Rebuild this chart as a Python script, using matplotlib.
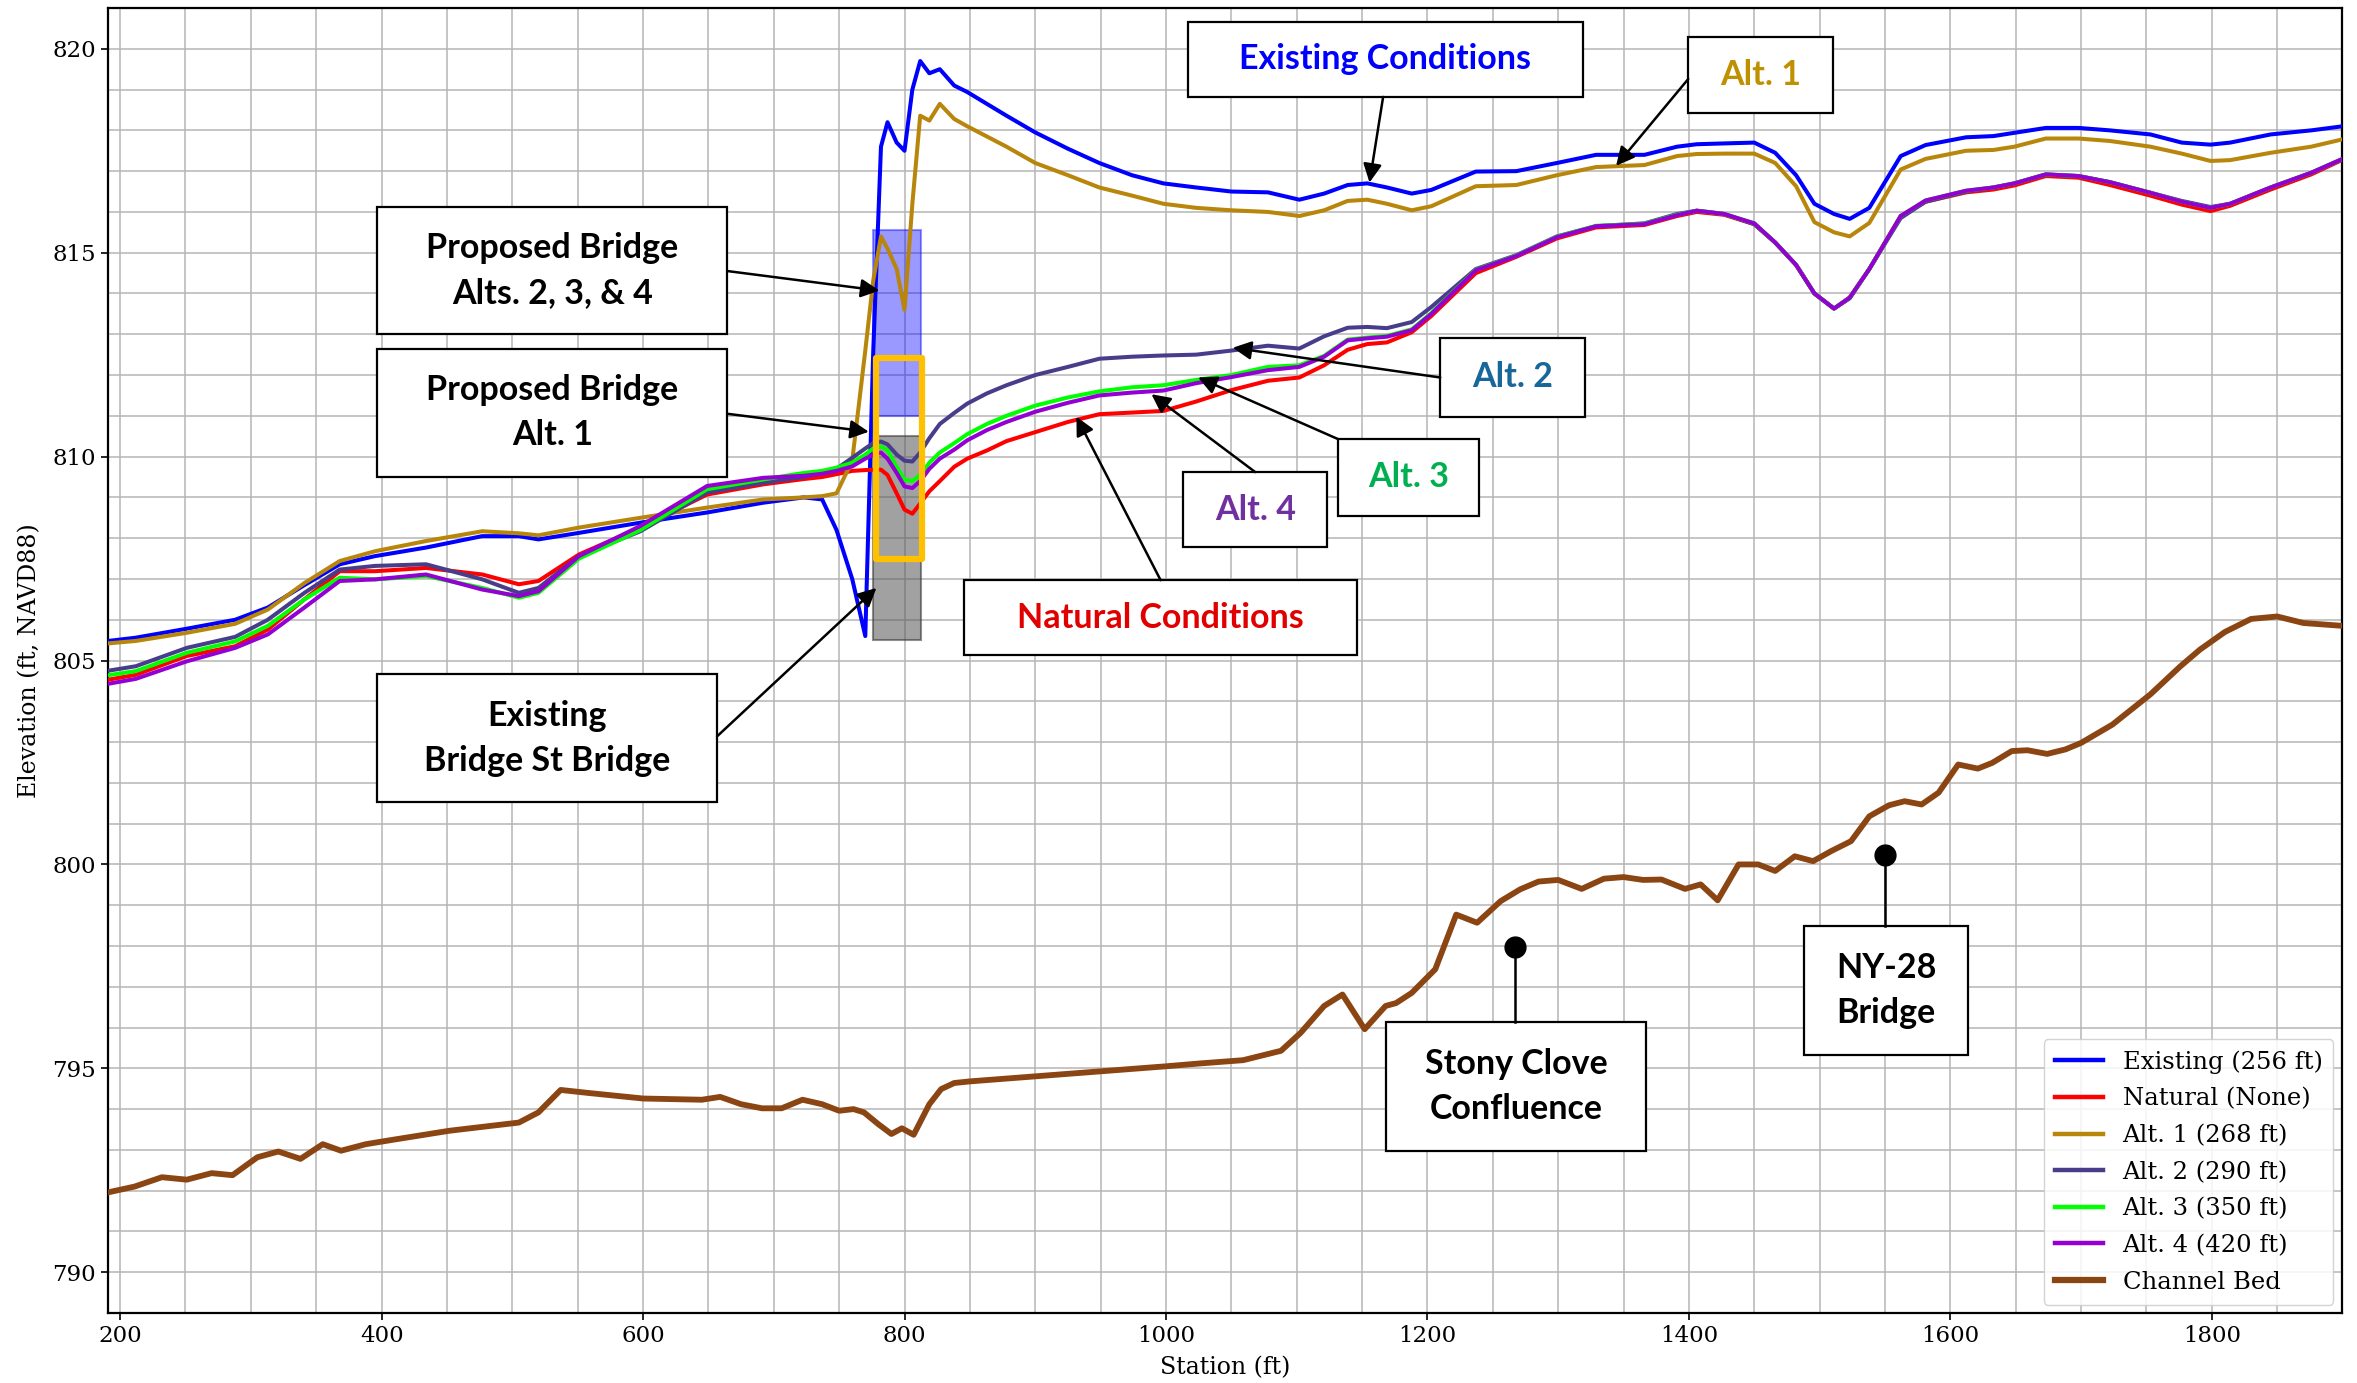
import matplotlib
matplotlib.use("Agg")
import matplotlib.pyplot as plt
from matplotlib.patches import Rectangle
from matplotlib.ticker import MultipleLocator

# ---------------- data ----------------
stations = [191, 212, 251, 288, 313, 341, 368, 395, 434, 477, 505, 520, 551, 598, 649, 692,
            723, 737, 748, 760, 770, 776, 782, 787, 794, 800, 806, 812, 819, 827, 838, 848,
            863, 878, 900, 925, 949, 974, 998, 1023, 1050, 1078, 1102, 1121, 1139, 1154, 1169,
            1188, 1203, 1237, 1268, 1299, 1329, 1366, 1391, 1406, 1427, 1450, 1466, 1482, 1496,
            1511, 1523, 1538, 1562, 1581, 1612, 1633, 1649, 1673, 1698, 1722, 1753, 1777, 1799,
            1814, 1845, 1876, 1900]

existing = [805.48, 805.56, 805.78, 806.0, 806.3, 806.85, 807.36, 807.56, 807.77, 808.05, 808.05,
            807.97, 808.13, 808.38, 808.63, 808.87, 809.0, 808.95, 808.2, 807.0, 805.6, 812.5,
            817.6, 818.2, 817.7, 817.5, 819.0, 819.7, 819.4, 819.5, 819.1, 818.94, 818.65, 818.36,
            817.95, 817.55, 817.2, 816.9, 816.7, 816.6, 816.5, 816.48, 816.3, 816.45, 816.66,
            816.7, 816.6, 816.45, 816.54, 816.99, 817.0, 817.2, 817.4, 817.4, 817.6, 817.66,
            817.68, 817.7, 817.45, 816.9, 816.2, 815.95, 815.83, 816.1, 817.37, 817.64, 817.83,
            817.86, 817.94, 818.06, 818.06, 818.0, 817.9, 817.7, 817.65, 817.7, 817.9, 818.0, 818.1]

natural = [804.53, 804.65, 805.11, 805.35, 805.76, 806.5, 807.19, 807.19, 807.27, 807.11, 806.87,
           806.95, 807.6, 808.26, 809.07, 809.32, 809.45, 809.5, 809.57, 809.65, 809.67, 809.68,
           809.68, 809.55, 809.1, 808.7, 808.6, 808.85, 809.15, 809.4, 809.75, 809.95, 810.15,
           810.38, 810.6, 810.85, 811.04, 811.08, 811.12, 811.35, 811.63, 811.86, 811.94, 812.24,
           812.62, 812.76, 812.8, 813.05, 813.45, 814.5, 814.9, 815.35, 815.62, 815.68, 815.9,
           816.0, 815.93, 815.7, 815.25, 814.7, 814.0, 813.63, 813.9, 814.6, 815.9, 816.25,
           816.48, 816.55, 816.65, 816.88, 816.84, 816.66, 816.4, 816.18, 816.02, 816.15, 816.55,
           816.92, 817.28]

alt1 = [805.42, 805.48, 805.68, 805.9, 806.25, 806.9, 807.44, 807.68, 807.93, 808.17, 808.12,
        808.07, 808.26, 808.5, 808.75, 808.95, 809.0, 809.03, 809.1, 809.9, 812.6, 814.3, 815.4,
        815.1, 814.6, 813.6, 816.2, 818.36, 818.24, 818.65, 818.28, 818.1, 817.85, 817.6, 817.2,
        816.9, 816.6, 816.4, 816.2, 816.1, 816.04, 816.0, 815.9, 816.04, 816.27, 816.3, 816.2,
        816.04, 816.14, 816.63, 816.66, 816.9, 817.1, 817.15, 817.37, 817.42, 817.43, 817.43,
        817.2, 816.63, 815.75, 815.5, 815.4, 815.73, 817.04, 817.3, 817.5, 817.52, 817.6, 817.8,
        817.8, 817.74, 817.6, 817.43, 817.25, 817.27, 817.45, 817.6, 817.78]

alt2 = [804.75, 804.86, 805.31, 805.58, 806.0, 806.66, 807.23, 807.32, 807.36, 806.99, 806.66,
        806.78, 807.56, 808.17, 809.12, 809.36, 809.5, 809.6, 809.7, 809.97, 810.2, 810.33,
        810.37, 810.3, 810.05, 809.9, 809.88, 810.1, 810.45, 810.8, 811.07, 811.3, 811.55,
        811.75, 812.0, 812.2, 812.4, 812.45, 812.48, 812.5, 812.6, 812.72, 812.65, 812.95,
        813.16, 813.18, 813.15, 813.3, 813.67, 814.6, 814.94, 815.4, 815.65, 815.72, 815.95,
        816.03, 815.95, 815.7, 815.25, 814.7, 814.0, 813.63, 813.88, 814.6, 815.85, 816.25,
        816.5, 816.6, 816.7, 816.92, 816.88, 816.73, 816.47, 816.27, 816.12, 816.2, 816.6,
        816.96, 817.3]

alt3 = [804.64, 804.74, 805.19, 805.47, 805.85, 806.5, 807.03, 806.99, 807.07, 806.78, 806.54,
        806.66, 807.5, 808.2, 809.2, 809.44, 809.6, 809.65, 809.73, 809.85, 810.05, 810.2,
        810.25, 810.15, 809.75, 809.43, 809.4, 809.55, 809.85, 810.1, 810.33, 810.55, 810.8,
        811.0, 811.25, 811.45, 811.6, 811.7, 811.75, 811.88, 812.0, 812.2, 812.24, 812.47,
        812.87, 812.92, 812.96, 813.12, 813.52, 814.58, 814.93, 815.39, 815.66, 815.71, 815.93,
        816.03, 815.95, 815.72, 815.25, 814.7, 814.0, 813.63, 813.9, 814.6, 815.9, 816.28,
        816.52, 816.6, 816.7, 816.92, 816.88, 816.73, 816.47, 816.25, 816.1, 816.2, 816.6,
        816.96, 817.3]

alt4 = [804.43, 804.55, 804.98, 805.31, 805.64, 806.3, 806.95, 806.99, 807.11, 806.74, 806.58,
        806.7, 807.56, 808.3, 809.28, 809.48, 809.53, 809.58, 809.65, 809.76, 809.95, 810.05,
        810.1, 809.95, 809.6, 809.27, 809.23, 809.4, 809.7, 809.95, 810.17, 810.4, 810.65,
        810.85, 811.1, 811.32, 811.5, 811.57, 811.62, 811.8, 811.95, 812.12, 812.2, 812.45,
        812.85, 812.9, 812.94, 813.1, 813.5, 814.57, 814.92, 815.38, 815.65, 815.7, 815.92,
        816.03, 815.95, 815.72, 815.25, 814.7, 814.0, 813.63, 813.9, 814.6, 815.9, 816.28,
        816.52, 816.6, 816.7, 816.92, 816.88, 816.73, 816.47, 816.25, 816.1, 816.2, 816.6,
        816.96, 817.3]

bed_stations = [191, 211, 232, 251, 270, 286, 305, 321, 338, 355, 369, 388, 409, 452, 505, 520,
                537, 560, 600, 645, 659, 675, 691, 706, 722, 737, 750, 761, 769, 780, 790, 798,
                807, 819, 828, 838, 850, 1000, 1026, 1059, 1088, 1103, 1121, 1135, 1152, 1168,
                1176, 1188, 1206, 1222, 1238, 1256, 1271, 1285, 1300, 1318, 1335, 1350, 1365,
                1379, 1397, 1409, 1422, 1438, 1453, 1466, 1481, 1495, 1509, 1524, 1538, 1553,
                1565, 1578, 1591, 1606, 1621, 1632, 1647, 1659, 1674, 1688, 1700, 1724, 1753,
                1776, 1791, 1810, 1830, 1850, 1870, 1900]
bed = [791.96, 792.1, 792.33, 792.27, 792.43, 792.38, 792.82, 792.96, 792.78, 793.14, 792.98,
       793.14, 793.25, 793.47, 793.67, 793.92, 794.47, 794.39, 794.26, 794.23, 794.3, 794.12,
       794.02, 794.02, 794.23, 794.12, 793.96, 794.0, 793.92, 793.63, 793.39, 793.53, 793.37,
       794.12, 794.49, 794.64, 794.68, 795.05, 795.12, 795.2, 795.43, 795.87, 796.53, 796.81,
       795.96, 796.53, 796.6, 796.85, 797.43, 798.77, 798.57, 799.1, 799.39, 799.58, 799.62,
       799.4, 799.65, 799.69, 799.62, 799.63, 799.4, 799.51, 799.12, 800.0, 800.0, 799.84,
       800.2, 800.08, 800.33, 800.57, 801.18, 801.45, 801.55, 801.47, 801.76, 802.45, 802.35,
       802.49, 802.78, 802.8, 802.71, 802.82, 802.98, 803.43, 804.17, 804.86, 805.27, 805.7,
       806.02, 806.08, 805.92, 805.85]

series_labels = ["Existing (256 ft)", "Natural (None)", "Alt. 1 (268 ft)", "Alt. 2 (290 ft)",
                 "Alt. 3 (350 ft)", "Alt. 4 (420 ft)"]
bed_label = "Channel Bed"

# ---------------- styling ----------------
plt.rcParams['font.family'] = ['DejaVu Serif']
ANN_FONT = ['Lato', 'DejaVu Sans']

fig = plt.figure(figsize=(23.57, 13.83), dpi=100)
ax = fig.add_axes([0.0458, 0.0506, 0.9478, 0.9436])

series = [existing, natural, alt1, alt2, alt3, alt4]
colors = ['#0000ff', '#ff0000', '#b8860b', '#483d8b', '#00ff00', '#9400d3']
for vals, lab, c in zip(series, series_labels, colors):
    ax.plot(stations, vals, color=c, lw=2.9, label=lab, zorder=3)
ax.plot(bed_stations, bed, color='#8b4513', lw=4.2, label=bed_label, zorder=3)

# bridge shading
ax.add_patch(Rectangle((776.2, 811.0), 36.4, 4.55, facecolor='#0000ff', alpha=0.4,
                       edgecolor='#0000ff', lw=1.5, zorder=2))
ax.add_patch(Rectangle((776.2, 805.5), 36.4, 5.0, facecolor='#555555', alpha=0.55,
                       edgecolor='#333333', lw=1.5, zorder=2))
ax.add_patch(Rectangle((778.0, 807.5), 35.6, 4.92, facecolor='none', edgecolor='#ffc000',
                       lw=4.5, zorder=4, joinstyle='round'))

ax.set_xlim(190.7, 1899.5)
ax.set_ylim(789.0, 821.0)
ax.xaxis.set_major_locator(MultipleLocator(200))
ax.xaxis.set_minor_locator(MultipleLocator(50))
ax.yaxis.set_major_locator(MultipleLocator(5))
ax.yaxis.set_minor_locator(MultipleLocator(1))
ax.grid(which='both', color='#b4b4b4', lw=1.2, alpha=0.9, zorder=0)
ax.set_axisbelow(True)
ax.tick_params(which='major', labelsize=16.5, length=5, width=1.2)
ax.tick_params(which='minor', length=0)
for s in ax.spines.values():
    s.set_linewidth(1.6)
ax.set_xlabel("Station (ft)", fontsize=17, labelpad=7)
ax.set_ylabel("Elevation (ft, NAVD88)", fontsize=17, labelpad=8)

leg = ax.legend(loc='lower right', fontsize=17.5, framealpha=0.85, borderpad=0.45,
                labelspacing=0.56, handlelength=2.0, borderaxespad=0.35)
leg.set_zorder(10)
for h in leg.get_lines():
    h.set_linewidth(3.2)
leg.get_lines()[-1].set_linewidth(4.5)


def box(x0, x1, y0, y1, text, color='black', lines=1.5):
    ax.add_patch(Rectangle((x0, y0), x1 - x0, y1 - y0, facecolor='white', edgecolor='black',
                           lw=1.6, zorder=6))
    ax.text((x0 + x1) / 2, (y0 + y1) / 2, text, ha='center', va='center', color=color,
            fontsize=24.5, fontweight='bold', family=ANN_FONT, linespacing=lines, zorder=7)


def arrow(x0, y0, x1, y1):
    ax.annotate("", xy=(x1, y1), xytext=(x0, y0),
                arrowprops=dict(arrowstyle='-|>', color='black', lw=1.8, mutation_scale=28,
                                shrinkA=0, shrinkB=0), zorder=7)


box(1016.6, 1319.1, 818.82, 820.66, "Existing Conditions", '#0000ff')
arrow(1166.1, 818.82, 1155.7, 816.72)
box(1399.5, 1509.9, 818.42, 820.29, "Alt. 1", '#bf9000')
arrow(1399.5, 819.26, 1344.3, 817.13)
box(396.7, 664.6, 813.0, 816.13, "Proposed Bridge\nAlts. 2, 3, & 4")
arrow(664.6, 814.55, 780.8, 814.07)
box(396.7, 664.6, 809.51, 812.64, "Proposed Bridge\nAlt. 1")
arrow(664.6, 811.05, 772.7, 810.61)
box(396.7, 656.6, 801.52, 804.68, "Existing\nBridge St Bridge")
arrow(656.6, 803.14, 778.5, 806.78)
box(845.2, 1146.5, 805.13, 806.97, "Natural Conditions", '#e00000')
arrow(995.9, 806.97, 931.5, 810.98)
box(1013.1, 1123.5, 807.78, 809.62, "Alt. 4", '#7030a0')
arrow(1068.3, 809.62, 988.9, 811.53)
box(1131.6, 1239.7, 808.55, 810.43, "Alt. 3", '#00b050')
arrow(1131.6, 810.43, 1024.6, 811.94)
box(1209.8, 1320.2, 810.98, 812.9, "Alt. 2", '#17679a')
arrow(1209.8, 811.94, 1051.1, 812.67)

box(1168.4, 1367.4, 792.98, 796.14, "Stony Clove\nConfluence")
ax.plot([1267.3, 1267.3], [796.14, 797.98], color='black', lw=1.8, zorder=6)
ax.plot([1267.3], [797.98], 'o', color='black', ms=15, zorder=7)
box(1488.1, 1613.5, 795.33, 798.5, "NY-28\nBridge")
ax.plot([1550.2, 1550.2], [798.5, 800.23], color='black', lw=1.8, zorder=6)
ax.plot([1550.2], [800.23], 'o', color='black', ms=15, zorder=7)

fig.savefig("out.png", dpi=100)
